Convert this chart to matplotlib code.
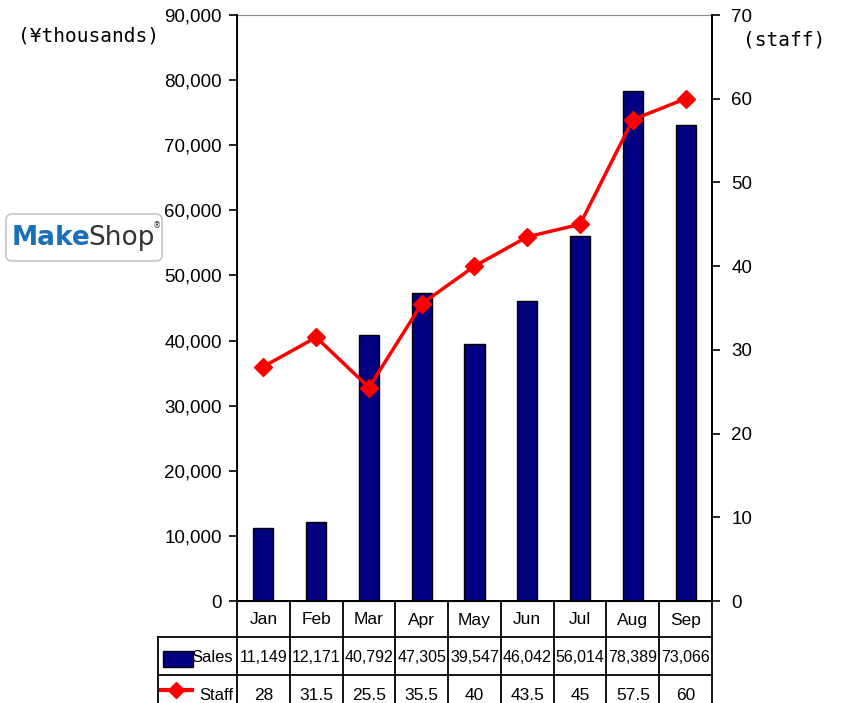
import matplotlib.pyplot as plt
from matplotlib.patches import Rectangle, FancyBboxPatch
from matplotlib.lines import Line2D
import matplotlib.transforms as mtransforms
from matplotlib.ticker import FuncFormatter

# data
months = ['Jan', 'Feb', 'Mar', 'Apr', 'May', 'Jun', 'Jul', 'Aug', 'Sep']
sales = [11149, 12171, 40792, 47305, 39547, 46042, 56014, 78389, 73066]
staff = [28, 31.5, 25.5, 35.5, 40, 43.5, 45, 57.5, 60]
staff_labels = ['28', '31.5', '25.5', '35.5', '40', '43.5', '45', '57.5', '60']

plt.rcParams['font.family'] = ['Liberation Sans', 'DejaVu Sans']

fig = plt.figure(figsize=(8.41, 7.03), dpi=100)
W, H = 841, 703
ax = fig.add_axes([237 / W, 1 - 601 / H, 475 / W, 586 / H])

x = list(range(len(months)))
ax.bar(x, sales, width=0.38, color='#000080', edgecolor='black', linewidth=1, zorder=2)
ax.set_xlim(-0.5, len(months) - 0.5)
ax.set_ylim(0, 90000)
ax.set_yticks(range(0, 90001, 10000))
ax.yaxis.set_major_formatter(FuncFormatter(lambda v, p: f'{int(v):,}'))
ax.set_xticks([])
ax.tick_params(axis='y', direction='out', length=6, width=1.2, labelsize=13.5, pad=5)
ax.spines['top'].set_color('#888888')
for s in ['left', 'right', 'bottom']:
    ax.spines[s].set_linewidth(1.3)

ax2 = ax.twinx()
ax2.plot(x, staff, color='red', linewidth=2.5, marker='D', markersize=9, zorder=3)
ax2.set_ylim(0, 70)
ax2.set_yticks(range(0, 71, 10))
ax2.tick_params(axis='y', direction='out', length=6, width=1.2, labelsize=13.5, pad=8)
ax2.spines['top'].set_visible(False)
ax2.spines['right'].set_linewidth(1.3)

# data table below the axes
tr = mtransforms.blended_transform_factory(ax.transData, ax.transAxes)
px = 1 / 586
rows = [0, -36 * px, -74 * px, -112 * px]
left_lab = -2.0
lw = 1.3
for i, yy in enumerate(rows):
    x0 = -0.5 if i == 0 else left_lab
    ax.add_line(Line2D([x0, len(months) - 0.5], [yy, yy], transform=tr, color='black', lw=lw, clip_on=False))
for xe in [v - 0.5 for v in range(len(months) + 1)]:
    ax.add_line(Line2D([xe, xe], [0, rows[-1]], transform=tr, color='black', lw=lw, clip_on=False))
ax.add_line(Line2D([left_lab, left_lab], [rows[1], rows[-1]], transform=tr, color='black', lw=lw, clip_on=False))

for i, m in enumerate(months):
    ax.text(i, -19 * px, m, transform=tr, ha='center', va='center', fontsize=12.5)
    ax.text(i, -56 * px, f'{sales[i]:,}', transform=tr, ha='center', va='center', fontsize=11.5)
    ax.text(i, -94 * px, staff_labels[i], transform=tr, ha='center', va='center', fontsize=12.5)

ax.text(-0.57, -57 * px, 'Sales', transform=tr, ha='right', va='center', fontsize=12)
ax.text(-0.57, -95 * px, 'Staff', transform=tr, ha='right', va='center', fontsize=12)
ax.add_patch(Rectangle((-1.90, -66 * px), 0.56, 16 * px, transform=tr, facecolor='#000080',
                       edgecolor='black', lw=1, clip_on=False))
ax.add_line(Line2D([-1.94, -1.36], [-89 * px, -89 * px], transform=tr, color='red', lw=3,
                   clip_on=False))
ax.add_line(Line2D([-1.65], [-89 * px], transform=tr, color='red', marker='D', markersize=8,
                   clip_on=False))

# axis titles
fig.text(88 / W, 1 - 36 / H, '(¥thousands)', ha='center', va='center', fontsize=14,
         family='DejaVu Sans Mono')
fig.text(784 / W, 1 - 40 / H, '(staff)', ha='center', va='center', fontsize=14,
         family='DejaVu Sans Mono')

# logo
fig.patches.append(FancyBboxPatch((6 / W, 1 - 261 / H), 156 / W, 47 / H,
                                  boxstyle='round,pad=0,rounding_size=0.008',
                                  transform=fig.transFigure, facecolor='white',
                                  edgecolor='#bbbbbb', lw=1, figure=fig))
fig.text(12 / W, 1 - 238 / H, 'Make', ha='left', va='center', fontsize=19,
         fontweight='bold', color='#1b6fb8', family='DejaVu Sans')
fig.text(88 / W, 1 - 238 / H, 'Shop', ha='left', va='center', fontsize=19,
         color='#333333', family='DejaVu Sans')
fig.text(153 / W, 1 - 226 / H, '®', ha='left', va='center', fontsize=6,
         color='#333333', family='DejaVu Sans')

fig.savefig('out.png', dpi=100)
